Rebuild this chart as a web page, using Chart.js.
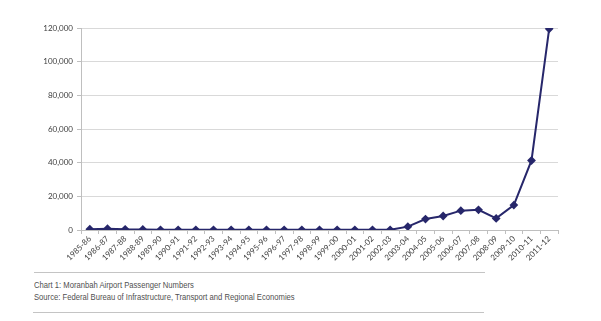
<!DOCTYPE html>
<html>
<head>
<meta charset="utf-8">
<script src="https://cdn.jsdelivr.net/npm/chart.js@4"></script>
<style>
  html, body { margin: 0; padding: 0; background: #fff; }
  #wrap { position: relative; width: 601px; height: 321px; }
  #chart { position: absolute; left: 0; top: 0; }
  .rule { position: absolute; height: 0; border-top: 1px solid #c4c4c4; }
  .caption {
    position: absolute; left: 34px; top: 279px;
    font-family: "Liberation Sans", sans-serif;
    font-size: 9px; line-height: 12px; color: #505050;
    white-space: nowrap;
    transform: scaleX(0.85); transform-origin: left top;
  }
</style>
</head>
<body>
<div id="wrap">
  <canvas id="chart" width="601" height="268"></canvas>
  <div class="rule" style="left:34px; width:451px; top:272px;"></div>
  <div class="caption">Chart 1: Moranbah Airport Passenger Numbers<br>Source: Federal Bureau of Infrastructure, Transport and Regional Economies</div>
  <div class="rule" style="left:33px; width:451px; top:312px;"></div>
</div>
<script>
// financial years on the x axis
const years = ['1985-86','1986-87','1987-88','1988-89','1989-90','1990-91','1991-92','1992-93','1993-94',
  '1994-95','1995-96','1996-97','1997-98','1998-99','1999-00','2000-01','2001-02','2002-03','2003-04',
  '2004-05','2005-06','2006-07','2007-08','2008-09','2009-10','2010-11','2011-12'];
// passengers per year
const passengers = [500, 800, 400, 300, 100, 100, 100, 100, 100,
  100, 100, 100, 100, 100, 100, 100, 100, 100, 2000,
  6500, 8300, 11500, 12000, 6900, 14800, 41300, 119500];
const yTicks = [0, 20000, 40000, 60000, 80000, 100000, 120000];

const navy = '#27276b';
const tickFont = { family: 'Lato, "Liberation Sans", sans-serif', size: 8 };

let ctx = document.getElementById('chart');
let chart = new Chart(ctx, {
  type: 'line',
  data: {
    labels: years,
    datasets: [{
      data: passengers,
      borderColor: navy,
      backgroundColor: navy,
      borderWidth: 2,
      pointStyle: 'rectRot',
      pointRadius: 3,
      tension: 0
    }]
  },
  options: {
    responsive: false,
    animation: false,
    layout: { padding: { top: 28, right: 43, left: 0, bottom: 0 } },
    plugins: { legend: { display: false }, tooltip: { enabled: false } },
    scales: {
      x: {
        offset: true,
        grid: { drawOnChartArea: false, offset: true, tickLength: 4, color: '#bfbfbf' },
        border: { color: '#bfbfbf' },
        ticks: {
          autoSkip: false, minRotation: 45, maxRotation: 45,
          font: tickFont, color: '#404040', padding: 0
        },
        afterFit: s => { s.height = 38; }
      },
      y: {
        min: 0, max: 120000,
        afterBuildTicks: s => { s.ticks = yTicks.map(v => ({ value: v })); },
        grid: { color: '#d9d9d9', tickLength: 4, tickColor: '#bfbfbf' },
        border: { color: '#bfbfbf' },
        ticks: {
          font: tickFont, color: '#404040', padding: 4,
          callback: v => v.toLocaleString('en-US')
        },
        afterFit: s => { s.width = 81; }
      }
    }
  }
});
</script>
</body>
</html>
